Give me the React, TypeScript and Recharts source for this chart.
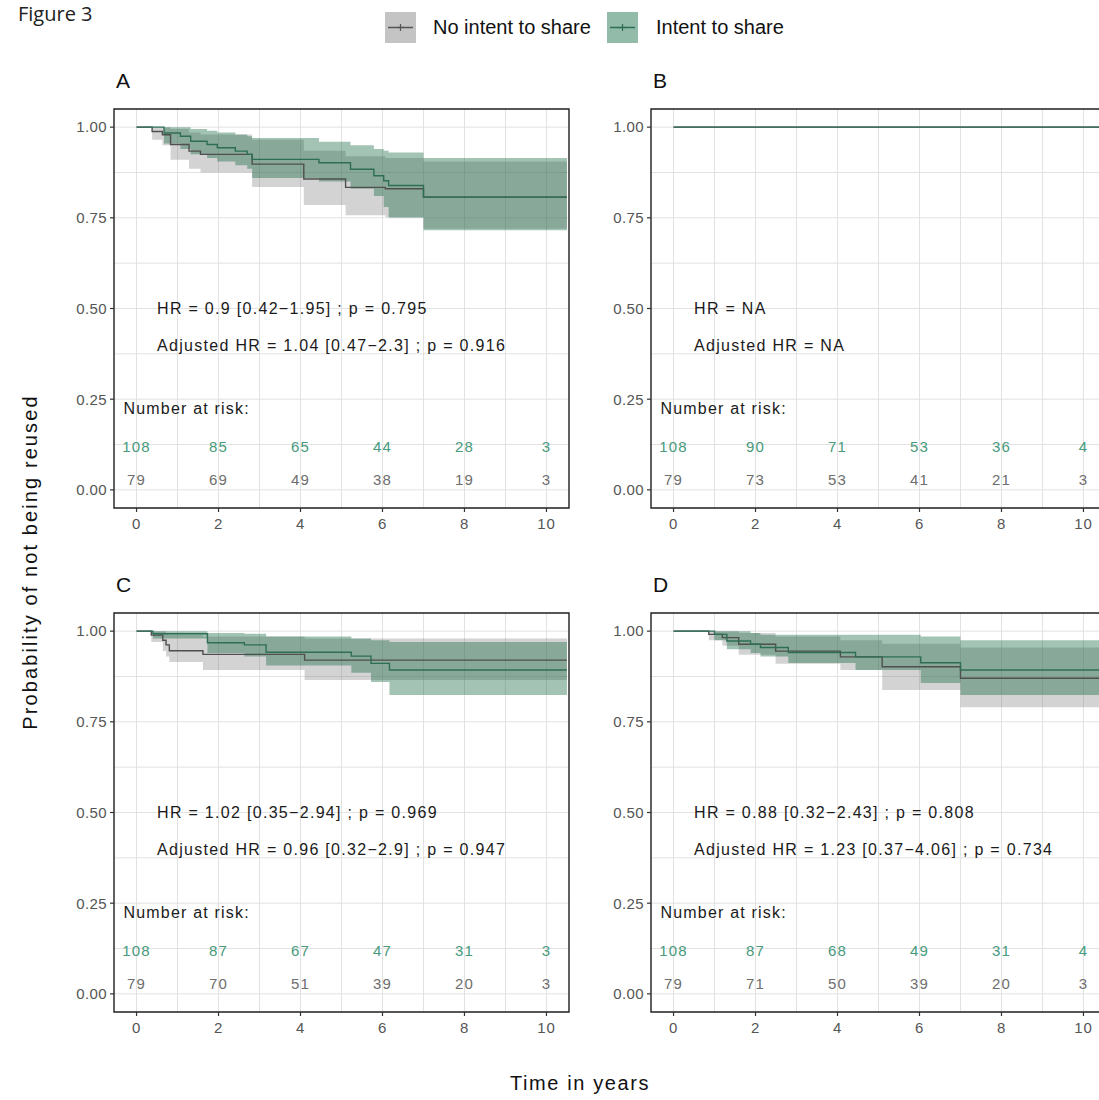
import React from 'react';
import {
  ComposedChart,
  Line,
  Area,
  Scatter,
  XAxis,
  YAxis,
  CartesianGrid,
  ReferenceArea,
} from 'recharts';

type Step = [number, number];
type Band = [number, number, number];

// ---------- axes ----------
const TIME_TICKS = [0, 2, 4, 6, 8, 10];
const PROB_TICKS = [0, 0.25, 0.5, 0.75, 1];
const GRID_X = [0, 1, 2, 3, 4, 5, 6, 7, 8, 9, 10];
const GRID_Y = [0, 0.125, 0.25, 0.375, 0.5, 0.625, 0.75, 0.875, 1];
const GROUPS = ['No intent to share', 'Intent to share'];
const RISK_TIMES = [0, 2, 4, 6, 8, 10];

// ---------- panel A ----------
const A_NO: Step[] = [[0, 1], [0.38, 0.988], [0.63, 0.979], [0.83, 0.952], [1.28, 0.934], [1.56, 0.925], [2.82, 0.898], [4.08, 0.857], [5.1, 0.834], [6.07, 0.83], [7.0, 0.807], [10.5, 0.807]];
const A_YES: Step[] = [[0, 1], [0.67, 0.984], [1.07, 0.975], [1.32, 0.961], [1.72, 0.952], [1.97, 0.943], [2.41, 0.934], [2.7, 0.925], [2.82, 0.911], [4.45, 0.902], [5.22, 0.884], [5.79, 0.866], [6.03, 0.852], [6.15, 0.839], [7.0, 0.807], [10.5, 0.807]];
const A_NO_BAND: Band[] = [[0, 1, 1], [0.38, 0.965, 1], [0.63, 0.95, 1], [0.83, 0.91, 0.995], [1.28, 0.885, 0.985], [1.56, 0.875, 0.98], [2.82, 0.835, 0.965], [4.08, 0.785, 0.935], [5.1, 0.757, 0.92], [6.07, 0.752, 0.915], [7.0, 0.72, 0.905], [10.5, 0.72, 0.905]];
const A_YES_BAND: Band[] = [[0, 1, 1], [0.67, 0.955, 1], [1.07, 0.94, 1], [1.32, 0.925, 0.995], [1.72, 0.915, 0.99], [1.97, 0.905, 0.985], [2.41, 0.895, 0.98], [2.7, 0.885, 0.975], [2.82, 0.86, 0.97], [4.45, 0.85, 0.96], [5.22, 0.83, 0.95], [5.79, 0.81, 0.94], [6.03, 0.78, 0.935], [6.15, 0.75, 0.93], [7.0, 0.716, 0.915], [10.5, 0.716, 0.915]];
const A_RISK_YES = [108, 85, 65, 44, 28, 3];
const A_RISK_NO = [79, 69, 49, 38, 19, 3];
const A_HR = ['HR = 0.9 [0.42\u22121.95] ; p = 0.795', 'Adjusted HR = 1.04 [0.47\u22122.3] ; p = 0.916'];

// ---------- panel B ----------
const B_NO: Step[] = [[0, 1], [10.5, 1]];
const B_YES: Step[] = [[0, 1], [10.5, 1]];
const B_NO_BAND: Band[] = [[0, 1, 1], [10.5, 1, 1]];
const B_YES_BAND: Band[] = [[0, 1, 1], [10.5, 1, 1]];
const B_RISK_YES = [108, 90, 71, 53, 36, 4];
const B_RISK_NO = [79, 73, 53, 41, 21, 3];
const B_HR = ['HR = NA', 'Adjusted HR = NA'];

// ---------- panel C ----------
const C_NO: Step[] = [[0, 1], [0.36, 0.989], [0.64, 0.975], [0.72, 0.962], [0.8, 0.946], [1.62, 0.936], [4.1, 0.92], [10.5, 0.92]];
const C_YES: Step[] = [[0, 1], [0.4, 0.993], [1.73, 0.968], [2.63, 0.962], [3.16, 0.942], [5.24, 0.931], [5.72, 0.911], [6.17, 0.893], [10.5, 0.893]];
const C_NO_BAND: Band[] = [[0, 1, 1], [0.36, 0.97, 1], [0.64, 0.945, 1], [0.72, 0.93, 0.995], [0.8, 0.915, 0.99], [1.62, 0.893, 0.985], [4.1, 0.865, 0.98], [10.5, 0.865, 0.98]];
const C_YES_BAND: Band[] = [[0, 1, 1], [0.4, 0.98, 1], [1.73, 0.94, 0.995], [2.63, 0.93, 0.993], [3.16, 0.905, 0.985], [5.24, 0.885, 0.98], [5.72, 0.86, 0.975], [6.17, 0.824, 0.97], [10.5, 0.824, 0.97]];
const C_RISK_YES = [108, 87, 67, 47, 31, 3];
const C_RISK_NO = [79, 70, 51, 39, 20, 3];
const C_HR = ['HR = 1.02 [0.35\u22122.94] ; p = 0.969', 'Adjusted HR = 0.96 [0.32\u22122.9] ; p = 0.947'];

// ---------- panel D ----------
const D_NO: Step[] = [[0, 1], [0.86, 0.991], [1.19, 0.982], [1.59, 0.964], [2.49, 0.945], [4.07, 0.929], [5.09, 0.902], [7.0, 0.87], [10.5, 0.87]];
const D_YES: Step[] = [[0, 1], [1.0, 0.991], [1.3, 0.973], [1.88, 0.964], [2.12, 0.955], [2.8, 0.941], [4.44, 0.929], [6.03, 0.913], [7.0, 0.893], [10.5, 0.893]];
const D_NO_BAND: Band[] = [[0, 1, 1], [0.86, 0.975, 1], [1.19, 0.96, 1], [1.59, 0.935, 0.995], [2.49, 0.91, 0.985], [4.07, 0.893, 0.975], [5.09, 0.838, 0.965], [7.0, 0.79, 0.955], [10.5, 0.79, 0.955]];
const D_YES_BAND: Band[] = [[0, 1, 1], [1.0, 0.975, 1], [1.3, 0.95, 1], [1.88, 0.94, 0.995], [2.12, 0.93, 0.99], [2.8, 0.912, 0.99], [4.44, 0.893, 0.99], [6.03, 0.857, 0.985], [7.0, 0.824, 0.975], [10.5, 0.824, 0.975]];
const D_RISK_YES = [108, 87, 68, 49, 31, 4];
const D_RISK_NO = [79, 71, 50, 39, 20, 3];
const D_HR = ['HR = 0.88 [0.32\u22122.43] ; p = 0.808', 'Adjusted HR = 1.23 [0.37\u22124.06] ; p = 0.734'];

// annotation anchors (data units)
const HR_T = 0.5;
const HR_V = [0.5, 0.4];
const RISK_TITLE_T = -0.32;
const RISK_TITLE_V = 0.225;
const RISK_YES_V = 0.12;
const RISK_NO_V = 0.028;

// ---------- styles ----------
const FONT = "'Liberation Sans', Arial, sans-serif";
const GREEN_LINE = '#2e6e55';
const GREY_LINE = '#4f4f4f';
const GREEN_FILL = '#196947';
const GREY_FILL = '#767676';
const GREEN_TEXT = '#479a7c';
const GREY_TEXT = '#6e6e6e';

const CHART_W = 580;
const CHART_H = 460;

type PanelSpec = {
  letter: string;
  left: number;
  top: number;
  no: Step[];
  yes: Step[];
  noBand: Band[];
  yesBand: Band[];
  riskYes: number[];
  riskNo: number[];
  hr: string[];
};

const PANELS: PanelSpec[] = [
  { letter: 'A', left: 0, top: 90, no: A_NO, yes: A_YES, noBand: A_NO_BAND, yesBand: A_YES_BAND, riskYes: A_RISK_YES, riskNo: A_RISK_NO, hr: A_HR },
  { letter: 'B', left: 537, top: 90, no: B_NO, yes: B_YES, noBand: B_NO_BAND, yesBand: B_YES_BAND, riskYes: B_RISK_YES, riskNo: B_RISK_NO, hr: B_HR },
  { letter: 'C', left: 0, top: 594, no: C_NO, yes: C_YES, noBand: C_NO_BAND, yesBand: C_YES_BAND, riskYes: C_RISK_YES, riskNo: C_RISK_NO, hr: C_HR },
  { letter: 'D', left: 537, top: 594, no: D_NO, yes: D_YES, noBand: D_NO_BAND, yesBand: D_YES_BAND, riskYes: D_RISK_YES, riskNo: D_RISK_NO, hr: D_HR },
];

const makeTextShape = (opts: { size: number; color: string; anchor: string; spacing: number }) =>
  (props: any) => {
    const { cx, cy, payload } = props;
    if (cx == null || cy == null) return <g />;
    return (
      <text
        x={cx}
        y={cy}
        dy="0.36em"
        textAnchor={opts.anchor}
        fontSize={opts.size}
        fill={opts.color}
        letterSpacing={opts.spacing}
        fontFamily={FONT}
      >
        {payload.label}
      </text>
    );
  };

const HR_SHAPE = makeTextShape({ size: 16, color: '#1a1a1a', anchor: 'start', spacing: 1.3 });
const RISK_TITLE_SHAPE = makeTextShape({ size: 16, color: '#1a1a1a', anchor: 'start', spacing: 1.2 });
const RISK_YES_SHAPE = makeTextShape({ size: 15, color: GREEN_TEXT, anchor: 'middle', spacing: 1.2 });
const RISK_NO_SHAPE = makeTextShape({ size: 15, color: GREY_TEXT, anchor: 'middle', spacing: 1.2 });

const fmt2 = (v: number) => v.toFixed(2);

function Panel({ spec }: { spec: PanelSpec }) {
  const noLine = spec.no.map(([t, v]) => ({ t, v }));
  const yesLine = spec.yes.map(([t, v]) => ({ t, v }));
  const noBand = spec.noBand.map(([t, lo, hi]) => ({ t, band: [lo, hi] }));
  const yesBand = spec.yesBand.map(([t, lo, hi]) => ({ t, band: [lo, hi] }));
  const hrData = spec.hr.map((label, i) => ({ t: HR_T, v: HR_V[i], label }));
  const riskTitle = [{ t: RISK_TITLE_T, v: RISK_TITLE_V, label: 'Number at risk:' }];
  const riskYes = RISK_TIMES.map((t, i) => ({ t, v: RISK_YES_V, label: String(spec.riskYes[i]) }));
  const riskNo = RISK_TIMES.map((t, i) => ({ t, v: RISK_NO_V, label: String(spec.riskNo[i]) }));

  return (
    <div style={{ position: 'absolute', left: spec.left, top: spec.top }}>
      <ComposedChart width={CHART_W} height={CHART_H} margin={{ top: 19, right: 11, bottom: 0, left: 0 }}>
        <CartesianGrid
          stroke="#e2e2e2"
          strokeWidth={1}
          verticalValues={GRID_X}
          horizontalValues={GRID_Y}
        />
        <XAxis
          type="number"
          dataKey="t"
          domain={[-0.55, 10.55]}
          ticks={TIME_TICKS}
          interval={0}
          allowDataOverflow
          height={42}
          tickSize={4}
          tickMargin={6}
          axisLine={false}
          tickLine={{ stroke: '#333', strokeWidth: 1.2 }}
          tick={{ fill: '#555', fontSize: 15, letterSpacing: 0.8, fontFamily: FONT }}
        />
        <YAxis
          type="number"
          domain={[-0.05, 1.05]}
          ticks={PROB_TICKS}
          interval={0}
          allowDataOverflow
          width={114}
          tickSize={4}
          tickMargin={3}
          axisLine={false}
          tickFormatter={fmt2}
          tickLine={{ stroke: '#333', strokeWidth: 1.2 }}
          tick={{ fill: '#555', fontSize: 15, letterSpacing: 0.4, fontFamily: FONT }}
        />
        <Area
          data={noBand}
          dataKey="band"
          type="stepAfter"
          stroke="none"
          fill={GREY_FILL}
          fillOpacity={0.32}
          isAnimationActive={false}
          activeDot={false}
        />
        <Area
          data={yesBand}
          dataKey="band"
          type="stepAfter"
          stroke="none"
          fill={GREEN_FILL}
          fillOpacity={0.4}
          isAnimationActive={false}
          activeDot={false}
        />
        <Line
          data={noLine}
          dataKey="v"
          type="stepAfter"
          stroke={GREY_LINE}
          strokeWidth={1.4}
          dot={false}
          activeDot={false}
          isAnimationActive={false}
        />
        <Line
          data={yesLine}
          dataKey="v"
          type="stepAfter"
          stroke={GREEN_LINE}
          strokeWidth={1.4}
          dot={false}
          activeDot={false}
          isAnimationActive={false}
        />
        <Scatter data={hrData} dataKey="v" shape={HR_SHAPE} isAnimationActive={false} />
        <Scatter data={riskTitle} dataKey="v" shape={RISK_TITLE_SHAPE} isAnimationActive={false} />
        <Scatter data={riskYes} dataKey="v" shape={RISK_YES_SHAPE} isAnimationActive={false} />
        <Scatter data={riskNo} dataKey="v" shape={RISK_NO_SHAPE} isAnimationActive={false} />
        <ReferenceArea
          x1={-0.55}
          x2={10.55}
          y1={-0.05}
          y2={1.05}
          fill="none"
          fillOpacity={0}
          stroke="#1f1f1f"
          strokeWidth={1.4}
          ifOverflow="visible"
        />
      </ComposedChart>
    </div>
  );
}

function LegendKey({ x, fill, line }: { x: number; fill: string; line: string }) {
  return (
    <g>
      <rect x={x} y={12} width={31} height={31} fill={fill} />
      <line x1={x + 3} x2={x + 28} y1={27.5} y2={27.5} stroke={line} strokeWidth={1.5} />
      <line x1={x + 15.5} x2={x + 15.5} y1={24} y2={31} stroke={line} strokeWidth={1.2} />
      <line x1={x + 12} x2={x + 19} y1={27.5} y2={27.5} stroke={line} strokeWidth={1.2} />
    </g>
  );
}

export default function App() {
  return (
    <div
      style={{
        position: 'absolute',
        left: 0,
        top: 0,
        width: 1099,
        height: 1100,
        overflow: 'hidden',
        background: '#ffffff',
        fontFamily: FONT,
      }}
    >
      <svg width={1099} height={1100} style={{ position: 'absolute', left: 0, top: 0 }}>
        <text x={18} y={21} fontSize={20} fontFamily="'Open Sans', sans-serif" fill="#222">
          Figure 3
        </text>
        <LegendKey x={385} fill="#c4c4c4" line="#555" />
        <text x={433} y={27} dy="0.36em" fontSize={20} fill="#111" fontFamily={FONT}>
          {GROUPS[0]}
        </text>
        <LegendKey x={607} fill="#93bbaa" line={GREEN_LINE} />
        <text x={656} y={27} dy="0.36em" fontSize={20} fill="#111" fontFamily={FONT}>
          {GROUPS[1]}
        </text>
        {PANELS.map((p) => (
          <text
            key={p.letter}
            x={p.left + 116}
            y={p.top - 10}
            dy="0.36em"
            fontSize={21}
            fill="#111"
            fontFamily={FONT}
          >
            {p.letter}
          </text>
        ))}
        <text x={580} y={1083} dy="0.36em" textAnchor="middle" fontSize={20} letterSpacing={1.6} fill="#111" fontFamily={FONT}>
          Time in years
        </text>
        <text
          x={30}
          y={562}
          dy="0.36em"
          textAnchor="middle"
          fontSize={20}
          letterSpacing={2.1}
          fill="#111"
          fontFamily={FONT}
          transform="rotate(-90 30 562)"
        >
          Probability of not being reused
        </text>
      </svg>
      {PANELS.map((p) => (
        <Panel key={p.letter} spec={p} />
      ))}
    </div>
  );
}
